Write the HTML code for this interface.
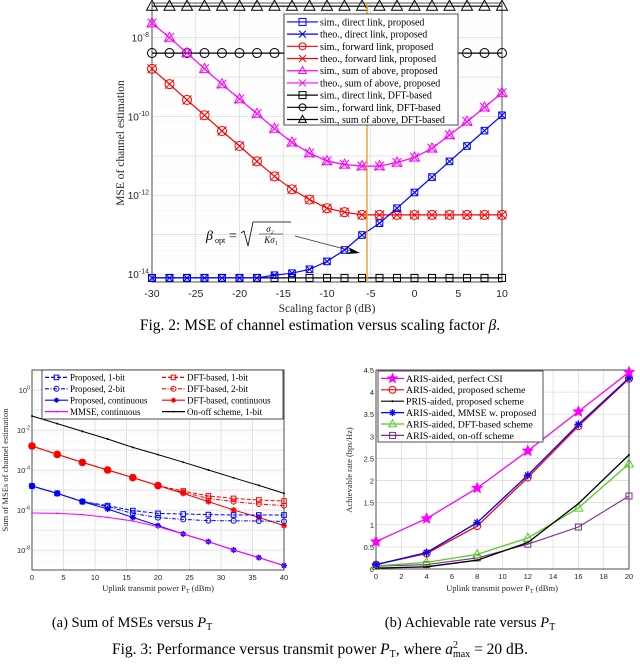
<!DOCTYPE html>
<html><head><meta charset="utf-8">
<style>
body{margin:0;background:#fff;width:640px;height:672px;overflow:hidden;font-family:"Liberation Serif",serif}
svg{position:absolute;left:0;top:0}
</style></head>
<body>
<svg id="s" width="640" height="672" viewBox="0 0 640 672"></svg>
<script>
// ---------- Fig 2 data ----------
const f2x=[-30,-28,-26,-24,-22,-20,-18,-16,-14,-12,-10,-8,-6,-4,-2,0,2,4,6,8,10];
const f2Direct=[-14.1,-14.1,-14.1,-14.1,-14.1,-14.1,-14.1,-14.03,-13.98,-13.88,-13.68,-13.39,-13.01,-12.71,-12.33,-11.93,-11.54,-11.14,-10.75,-10.36,-9.97];
const f2Forward=[-8.79,-9.18,-9.58,-9.97,-10.37,-10.75,-11.14,-11.52,-11.85,-12.11,-12.33,-12.43,-12.5,-12.5,-12.5,-12.5,-12.5,-12.5,-12.5,-12.5,-12.5];
const f2Sum=[-7.63,-8.0,-8.39,-8.79,-9.18,-9.56,-9.93,-10.31,-10.66,-10.93,-11.13,-11.22,-11.26,-11.26,-11.17,-11.04,-10.81,-10.47,-10.13,-9.77,-9.4];
const f2DftDirect=[-14.1,-14.1,-14.1,-14.1,-14.1,-14.1,-14.1,-14.1,-14.1,-14.1,-14.1,-14.1,-14.1,-14.1,-14.1,-14.1,-14.1,-14.1,-14.1,-14.1,-14.1];
const f2DftForward=[-8.39,-8.39,-8.39,-8.39,-8.39,-8.39,-8.39,-8.39,-8.39,-8.39,-8.39,-8.39,-8.39,-8.39,-8.39,-8.39,-8.39,-8.39,-8.39,-8.39,-8.39];
const f2DftSum=[-7.2,-7.2,-7.2,-7.2,-7.2,-7.2,-7.2,-7.2,-7.2,-7.2,-7.2,-7.2,-7.2,-7.2,-7.2,-7.2,-7.2,-7.2,-7.2,-7.2,-7.2];
const f2Opt=-5.43;
const f2XTicks=[-30,-25,-20,-15,-10,-5,0,5,10];
const f2YTicks=[-14,-12,-10,-8];
// ---------- Fig 3a data ----------
const f3ax=[0,4,8,12,16,20,24,28,32,36,40];
const f3aP1=[-4.8,-5.17,-5.58,-5.78,-6.03,-6.17,-6.2,-6.23,-6.25,-6.25,-6.25];
const f3aP2=[-4.8,-5.17,-5.58,-5.83,-6.17,-6.38,-6.47,-6.53,-6.54,-6.55,-6.57];
const f3aPc=[-4.8,-5.17,-5.58,-5.95,-6.37,-6.78,-7.2,-7.58,-8.0,-8.38,-8.78];
const f3aD1=[-2.8,-3.22,-3.62,-4.0,-4.38,-4.78,-5.05,-5.3,-5.42,-5.5,-5.55];
const f3aD2=[-2.8,-3.22,-3.62,-4.0,-4.38,-4.78,-5.12,-5.42,-5.58,-5.7,-5.78];
const f3aDc=[-2.8,-3.22,-3.62,-4.0,-4.38,-4.78,-5.17,-5.58,-6.0,-6.37,-6.78];
const f3aMmse=[-6.15,-6.17,-6.23,-6.37,-6.55,-6.83,-7.2,-7.58,-8.0,-8.38,-8.78];
const f3aOnoff=[-1.3,-1.68,-2.07,-2.45,-2.87,-3.23,-3.61,-4.0,-4.39,-4.77,-5.17];
const f3aXTicks=[0,5,10,15,20,25,30,35,40];
const f3aYTicks=[-8,-6,-4,-2,0];
// ---------- Fig 3b data ----------
const f3bx=[0,4,8,12,16,20];
const f3bPerfect=[0.62,1.14,1.83,2.67,3.56,4.45];
const f3bProposed=[0.1,0.35,0.97,2.07,3.23,4.3];
const f3bPris=[0.02,0.05,0.2,0.6,1.48,2.58];
const f3bMmse=[0.1,0.37,1.05,2.12,3.27,4.32];
const f3bDft=[0.07,0.15,0.33,0.7,1.38,2.38];
const f3bOnoff=[0.06,0.1,0.25,0.56,0.95,1.65];
const f3bXTicks=[0,2,4,6,8,10,12,14,16,18,20];
const f3bYTicks=[0,0.5,1,1.5,2,2.5,3,3.5,4,4.5];

const NS="http://www.w3.org/2000/svg";
const S=document.getElementById('s');
function mk(tag,at,parent,txt){const e=document.createElementNS(NS,tag);for(const k in at)e.setAttribute(k,at[k]);if(txt!==undefined)e.textContent=txt;(parent||S).appendChild(e);return e;}
function scale(d0,d1,r0,r1){return v=>r0+(v-d0)/(d1-d0)*(r1-r0);}

function marker(g,type,x,y,col,sz){
  let e;
  if(type==='sq'){e=mk('rect',{x:x-sz,y:y-sz,width:2*sz,height:2*sz,fill:'none',stroke:col,'stroke-width':1},g);}
  else if(type==='ci'){e=mk('circle',{cx:x,cy:y,r:sz,fill:'none',stroke:col,'stroke-width':1},g);}
  else if(type==='tr'){e=mk('path',{d:`M${x},${y-sz*1.2}L${x+sz*1.1},${y+sz*0.8}L${x-sz*1.1},${y+sz*0.8}Z`,fill:'none',stroke:col,'stroke-width':1},g);}
  else if(type==='x'){e=mk('path',{d:`M${x-sz},${y-sz}L${x+sz},${y+sz}M${x-sz},${y+sz}L${x+sz},${y-sz}`,stroke:col,'stroke-width':1},g);}
  else if(type==='st'){let p='';for(let i=0;i<10;i++){const r=i%2?sz*0.45:sz;const a=-Math.PI/2+i*Math.PI/5;p+=(i?'L':'M')+(x+r*Math.cos(a)).toFixed(1)+','+(y+r*Math.sin(a)).toFixed(1);}e=mk('path',{d:p+'Z',fill:col,stroke:col,'stroke-width':0.8},g);}
  else if(type==='ast'){e=mk('path',{d:`M${x-sz},${y}L${x+sz},${y}M${x},${y-sz}L${x},${y+sz}M${x-sz*.7},${y-sz*.7}L${x+sz*.7},${y+sz*.7}M${x-sz*.7},${y+sz*.7}L${x+sz*.7},${y-sz*.7}`,stroke:col,'stroke-width':1.3},g);}
  else if(type==='dot'){e=mk('circle',{cx:x,cy:y,r:sz,fill:col},g);}
  
  
}
function series(name,xs,ys,sx,sy,col,w,dash,marks,sz){
  const g=mk('g',{});
  
  
  const d=xs.map((v,i)=>(i?'L':'M')+sx(v).toFixed(1)+','+sy(ys[i]).toFixed(1)).join('');
  mk('path',{d:d,fill:'none',stroke:col,'stroke-width':w,'stroke-dasharray':dash||'none'},g);
  (marks||[]).forEach(m=>xs.forEach((v,i)=>marker(g,m,sx(v),sy(ys[i]),col,sz)));
}
function frame(L,T,R,B,name){
  const f=mk('rect',{x:L,y:T,width:R-L,height:B-T,fill:'none',stroke:'#262626','stroke-width':0.8});
  
  
}
function supText(x,y,base,exp,fs,anchor,parent){
  const t=mk('text',{x:x,y:y,'font-family':'Liberation Sans, sans-serif','font-size':fs,'text-anchor':anchor||'end',fill:'#262626'},parent);
  mk('tspan',{},t,base);mk('tspan',{dy:-fs*0.45,'font-size':fs*0.7},t,exp);
  return t;
}
function legend(x,y,w,h,rows,rowH,fs,cols,colW,lineW,name){
  const g=mk('g',{});
  
  
  mk('rect',{x:x,y:y,width:w,height:h,fill:'#fff',stroke:'#262626','stroke-width':0.8},g);
  rows.forEach((r,i)=>{
    const c=cols?Math.floor(i/ (rows.length/cols)):0; const ri=cols?i%(rows.length/cols):i;
    const lx=x+3+c*colW, ly=y+rowH*0.65+ri*rowH;
    const e=mk('g',{},g);
    
    
    mk('line',{x1:lx,y1:ly,x2:lx+lineW,y2:ly,stroke:r.c,'stroke-width':r.w||1.2,'stroke-dasharray':r.d||'none'},e);
    (r.m||[]).forEach(m=>marker(e,m,lx+lineW/2,ly,r.c,r.s||3.5));
    mk('text',{x:lx+lineW+2,y:ly+fs*0.35,'font-size':fs,fill:'#000','font-family':'Liberation Serif, serif'},e,r.t);
  });
}

// ================= FIG 2 =================
(function(){
const L=152,R=502,T=3,B=282;
const sx=scale(-30,10,L,R), sy=scale(-8,-14,37.7,274);
const gg=mk('g',{});
for(let d=-15;d<=-7;d++){for(let k=1;k<10;k++){const v=d+Math.log10(k);const y=sy(v);if(y<T||y>B)continue;mk('line',{x1:L,x2:R,y1:y,y2:y,stroke:k===1?'#dcdcdc':'#eeeeee','stroke-width':k===1?0.8:0.5,'stroke-dasharray':k===1?'none':'1,1'},gg);}}
f2XTicks.forEach(v=>mk('line',{x1:sx(v),x2:sx(v),y1:T,y2:B,stroke:'#dcdcdc','stroke-width':0.8},gg));
frame(L,T,R,B,'fig2-plot-area');
f2XTicks.forEach(v=>{const t=mk('text',{x:sx(v),y:B+15,'font-size':10.5,'text-anchor':'middle','font-family':'Liberation Sans, sans-serif',fill:'#262626'},S,String(v));});
f2YTicks.forEach(v=>{const t=supText(L-3,sy(v)+4,'10',String(v),10);});
let t=mk('text',{x:327,y:312,'font-size':11.5,'text-anchor':'middle',fill:'#262626'},S,'Scaling factor β (dB)');
t=mk('text',{x:0,y:0,'font-size':11.5,'text-anchor':'middle',fill:'#262626',transform:'translate(124,143) rotate(-90)'},S,'MSE of channel estimation');
series('sum-dft',f2x,f2DftSum,sx,sy,'#000',1.2,null,['tr'],5);
series('forward-dft',f2x,f2DftForward,sx,sy,'#000',1.2,null,['ci'],4.5);
series('sum-proposed',f2x,f2Sum,sx,sy,'#ff00ff',1.2,null,['tr','x'],4.5);
series('forward-proposed',f2x,f2Forward,sx,sy,'#ff0000',1.2,null,['ci','x'],4.5);
series('direct-dft',f2x,f2DftDirect,sx,sy,'#000',1.2,null,['sq'],3.5);
series('direct-proposed',f2x,f2Direct,sx,sy,'#0000ff',1.2,null,['sq','x'],3.3);
const o=mk('line',{x1:sx(f2Opt),x2:sx(f2Opt),y1:T,y2:B,stroke:'#f0a020','stroke-width':1.4});
const an=mk('g',{});
mk('text',{x:206,y:240,'font-size':14,'font-style':'italic'},an,'β');
mk('text',{x:215,y:243,'font-size':8},an,'opt');
mk('text',{x:229,y:240,'font-size':14},an,'=');
mk('path',{d:'M241,233 L244,231 L248,246 L253,222 L291,222',fill:'none',stroke:'#000','stroke-width':0.8},an);
mk('text',{x:270,y:232,'font-size':9,'font-style':'italic','text-anchor':'middle'},an,'σ₂');
mk('line',{x1:259,x2:283,y1:234,y2:234,stroke:'#000','stroke-width':0.6},an);
mk('text',{x:271,y:243,'font-size':9,'font-style':'italic','text-anchor':'middle'},an,'Kσ₁');
mk('path',{d:'M295,236 L352,251',stroke:'#333','stroke-width':0.8},an);
mk('path',{d:'M360,253 L348,247 L351,251 L347,254 Z',fill:'#000'},an);
legend(284,14,174,111,[
 {t:'sim., direct link, proposed',c:'#0000ff',m:['sq']},
 {t:'theo., direct link, proposed',c:'#0000ff',m:['x']},
 {t:'sim., forward link, proposed',c:'#ff0000',m:['ci']},
 {t:'theo., forward link, proposed',c:'#ff0000',m:['x']},
 {t:'sim., sum of above, proposed',c:'#ff00ff',m:['tr']},
 {t:'theo., sum of above, proposed',c:'#ff00ff',m:['x']},
 {t:'sim., direct link, DFT-based',c:'#000',m:['sq']},
 {t:'sim., forward link, DFT-based',c:'#000',m:['ci']},
 {t:'sim., sum of above, DFT-based',c:'#000',m:['tr']}],12.2,10,0,0,31,'fig2-legend');
t=mk('text',{x:320,y:330,'font-size':15.5,'text-anchor':'middle',fill:'#000'},S);
mk('tspan',{},t,'Fig. 2: MSE of channel estimation versus scaling factor ');mk('tspan',{'font-style':'italic'},t,'β');mk('tspan',{},t,'.');

})();

// ================= FIG 3a =================
(function(){
const L=32,R=284,T=370,B=570;
const sx=scale(0,40,L,R), sy=scale(0,-8,390,550);
const gg=mk('g',{});
for(let d=-9;d<=1;d++){for(let k=1;k<10;k++){const y=sy(d+Math.log10(k));if(y<T||y>B)continue;mk('line',{x1:L,x2:R,y1:y,y2:y,stroke:k===1?'#dcdcdc':'#eeeeee','stroke-width':k===1?0.8:0.5,'stroke-dasharray':k===1?'none':'1,1'},gg);}}
f3aXTicks.forEach(v=>mk('line',{x1:sx(v),x2:sx(v),y1:T,y2:B,stroke:'#dcdcdc','stroke-width':0.8},gg));
frame(L,T,R,B,'fig3a-plot-area');
f3aXTicks.forEach(v=>{const t=mk('text',{x:sx(v),y:B+10,'font-size':7.5,'text-anchor':'middle','font-family':'Liberation Sans, sans-serif',fill:'#262626'},S,String(v));});
f3aYTicks.forEach(v=>{const t=supText(L-2,sy(v)+3,'10',String(v),7.5);});
let t=mk('text',{x:158,y:591,'font-size':8.5,'text-anchor':'middle',fill:'#262626'},S,'Uplink transmit power P');mk('tspan',{'font-size':6,dy:2},t,'T');mk('tspan',{dy:-2},t,' (dBm)');

t=mk('text',{x:0,y:0,'font-size':8.5,'text-anchor':'middle',fill:'#262626',transform:'translate(8,470) rotate(-90)'},S,'Sum of MSEs of channel estimation');
series('on-off-1bit',f3ax,f3aOnoff,sx,sy,'#000',1,null,['dot'],1);
series('dft-continuous',f3ax,f3aDc,sx,sy,'#ff0000',1,null,['ast'],3);
series('dft-1bit',f3ax,f3aD1,sx,sy,'#ff0000',1,'4,2',['sq'],2.3);
series('dft-2bit',f3ax,f3aD2,sx,sy,'#ff0000',1,'4,1.5,1,1.5',['ci'],2.5);
series('proposed-continuous',f3ax,f3aPc,sx,sy,'#0000ff',1,null,['ast'],3);
series('proposed-1bit',f3ax,f3aP1,sx,sy,'#0000ff',1,'4,2',['sq'],2.3);
series('proposed-2bit',f3ax,f3aP2,sx,sy,'#0000ff',1,'4,1.5,1,1.5',['ci'],2.5);
series('mmse-continuous',f3ax,f3aMmse,sx,sy,'#ff00ff',1,null,['dot'],0.9);
[0,1,2,3,4,5].forEach(i=>{const c=mk('circle',{cx:sx(f3ax[i]),cy:sy(f3aDc[i]),r:3.8,fill:'#ff0000'});});
[0,1,2].forEach(i=>{const c=mk('circle',{cx:sx(f3ax[i]),cy:sy(f3aPc[i]),r:3.2,fill:'#0000ff'});});
legend(42,370,241,49,[
 {t:'Proposed, 1-bit',c:'#0000ff',d:'4,2',m:['sq'],s:2.3},
 {t:'Proposed, 2-bit',c:'#0000ff',d:'4,1.5,1,1.5',m:['ci'],s:2.5},
 {t:'Proposed, continuous',c:'#0000ff',m:['ast'],s:2.5},
 {t:'MMSE, continuous',c:'#ff00ff',m:['dot'],s:0.9},
 {t:'DFT-based, 1-bit',c:'#ff0000',d:'4,2',m:['sq'],s:2.3},
 {t:'DFT-based, 2-bit',c:'#ff0000',d:'4,1.5,1,1.5',m:['ci'],s:2.5},
 {t:'DFT-based, continuous',c:'#ff0000',m:['ast'],s:2.5},
 {t:'On-off scheme, 1-bit',c:'#000',m:['dot'],s:0.9}],11.4,9,2,117,23,'fig3a-legend');
t=mk('text',{x:132,y:627,'font-size':14.5,'text-anchor':'middle',fill:'#000'},S,'(a)  Sum of MSEs versus ');mk('tspan',{'font-style':'italic'},t,'P');mk('tspan',{'font-size':10,dy:3},t,'T');

})();

// ================= FIG 3b =================
(function(){
const L=376,R=629,T=370,B=569;
const sx=scale(0,20,L,R), sy=scale(0,4.5,B,T);
const gg=mk('g',{});
f3bYTicks.forEach(v=>mk('line',{x1:L,x2:R,y1:sy(v),y2:sy(v),stroke:'#dcdcdc','stroke-width':0.8},gg));
f3bXTicks.forEach(v=>mk('line',{x1:sx(v),x2:sx(v),y1:T,y2:B,stroke:'#dcdcdc','stroke-width':0.8},gg));
frame(L,T,R,B,'fig3b-plot-area');
f3bXTicks.forEach(v=>{const t=mk('text',{x:sx(v),y:B+10,'font-size':7.5,'text-anchor':'middle','font-family':'Liberation Sans, sans-serif',fill:'#262626'},S,String(v));});
f3bYTicks.forEach(v=>{const t=mk('text',{x:L-2,y:sy(v)+3,'font-size':7.5,'text-anchor':'end','font-family':'Liberation Sans, sans-serif',fill:'#262626'},S,String(v));});
let t=mk('text',{x:502,y:591,'font-size':8.5,'text-anchor':'middle',fill:'#262626'},S,'Uplink transmit power P');mk('tspan',{'font-size':6,dy:2},t,'T');mk('tspan',{dy:-2},t,' (dBm)');

t=mk('text',{x:0,y:0,'font-size':8.5,'text-anchor':'middle',fill:'#262626',transform:'translate(352,470) rotate(-90)'},S,'Achievable rate (bps/Hz)');
series('aris-onoff',f3bx,f3bOnoff,sx,sy,'#7e2f8e',1.1,null,['sq'],3);
series('aris-dft',f3bx,f3bDft,sx,sy,'#55cc22',1.3,null,['tr'],4);
series('pris-proposed',f3bx,f3bPris,sx,sy,'#000',1.3,null,['dot'],1);
series('aris-proposed',f3bx,f3bProposed,sx,sy,'#ff0000',1.3,null,['ci'],3.5);
series('aris-mmse',f3bx,f3bMmse,sx,sy,'#0000ff',1.3,null,['ast'],4);
series('aris-perfect',f3bx,f3bPerfect,sx,sy,'#ff00ff',1.3,null,['st'],5.5);
legend(378,371,165,71,[
 {t:'ARIS-aided, perfect CSI',c:'#ff00ff',m:['st'],s:5},
 {t:'ARIS-aided, proposed scheme',c:'#ff0000',m:['ci'],s:3.5},
 {t:'PRIS-aided, proposed scheme',c:'#000',m:['dot'],s:1},
 {t:'ARIS-aided, MMSE w. proposed',c:'#0000ff',m:['ast'],s:3.5},
 {t:'ARIS-aided, DFT-based scheme',c:'#55cc22',m:['tr'],s:3.5},
 {t:'ARIS-aided, on-off scheme',c:'#7e2f8e',m:['sq'],s:3}],11.4,9.8,0,0,23,'fig3b-legend');
t=mk('text',{x:470,y:627,'font-size':14.5,'text-anchor':'middle',fill:'#000'},S,'(b)  Achievable rate versus ');mk('tspan',{'font-style':'italic'},t,'P');mk('tspan',{'font-size':10,dy:3},t,'T');

})();

(function(){
const t=mk('text',{x:320,y:654,'font-size':15.5,'text-anchor':'middle',fill:'#000'},S,'Fig. 3: Performance versus transmit power ');
mk('tspan',{'font-style':'italic'},t,'P');mk('tspan',{'font-size':10,dy:3},t,'T');mk('tspan',{dy:-3},t,', where ');
mk('tspan',{'font-style':'italic'},t,'a');mk('tspan',{'font-size':10,dy:-6},t,'2');mk('tspan',{'font-size':10,dy:9,dx:-5},t,'max');mk('tspan',{dy:-3},t,' = 20 dB.');

})();
</script>
</body></html>
